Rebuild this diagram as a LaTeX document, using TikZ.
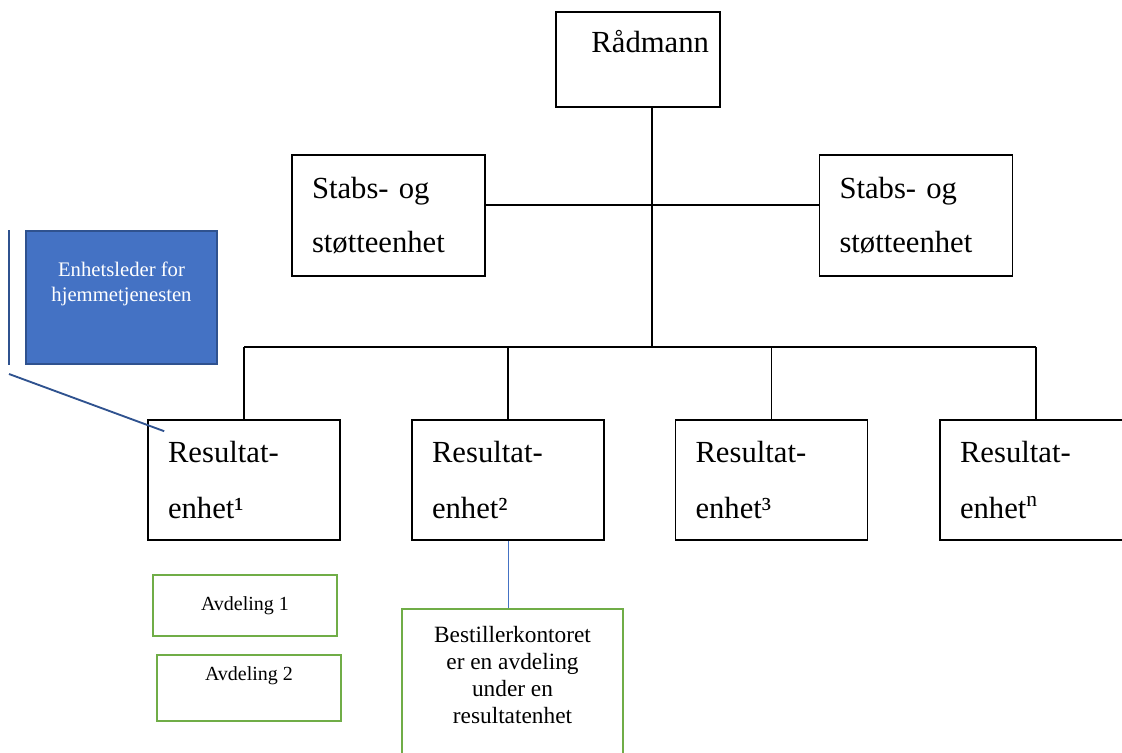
\documentclass[tikz,border=0pt]{standalone}
\usepackage{fontspec}
\setmainfont{Liberation Serif}
\usetikzlibrary{positioning}
\definecolor{lederblue}{HTML}{4472C4}
\definecolor{lederedge}{HTML}{2F528F}
\definecolor{avdgreen}{HTML}{70AD47}

\begin{document}
\begin{tikzpicture}[x=0.75pt,y=-0.75pt,
  orgbox/.style={draw,line width=1.2pt,align=left,inner xsep=15pt,inner ysep=0pt,
    font=\fontsize{23}{42}\selectfont},
  avdbox/.style={draw=avdgreen,line width=1.7pt,align=center,
    font=\fontsize{15}{16.5}\selectfont},
  link/.style={line width=1.1pt}]
\clip (0,0) rectangle (1122,753);

% top
\node[orgbox,minimum width=123pt,minimum height=71.25pt] (radmann) at (638,59.5) {};
\node[anchor=base west,inner sep=0pt,font=\fontsize{23}{28}\selectfont] (radtxt)
  at ([xshift=27pt,yshift=-30.75pt]radmann.north west) {Rådmann};

% staff units
\node[orgbox,text width=114.75pt,minimum height=90.75pt,font=\fontsize{23}{40}\selectfont]
  (stabsL) at (388.5,215.5) {Stabs- og\\støtteenhet};
\node[orgbox,text width=114.75pt,minimum height=90.75pt,font=\fontsize{23}{40}\selectfont]
  (stabsR) at (916,215.5) {Stabs- og\\støtteenhet};

% result units
\foreach \i/\x/\s in {1/244/¹,2/508/²,3/771.5/³,4/1036/\textsuperscript{n}}
  \node[orgbox,text width=114pt,minimum height=90pt] (res\i) at (\x,480) {Resultat-\\enhet\s};

\coordinate (mid) at (652,205);
\coordinate (bus) at (652,347);
\draw[link] (radmann.south -| bus) -- (bus);
\draw[link] (stabsL.east |- mid) -- (stabsR.west |- mid);
\draw[link] (res1.north |- bus) -- (res4.north |- bus);
\foreach \i in {1,...,4}
  \draw[link] (res\i.north |- bus) -- (res\i.north);

% unit leader
\node[fill=lederblue,draw=lederedge,line width=1.2pt,text=white,align=center,
  minimum width=143.25pt,minimum height=99.75pt,font=\fontsize{15.5}{18.75}\selectfont]
  (leder) at (121.5,297.5) {Enhetsleder for\\hjemmetjenesten\\\strut};
\coordinate (bar) at (9,374);
\draw[lederedge,line width=1.4pt] (bar |- leder.north) -- (bar |- leder.south);
\draw[lederedge,line width=1.4pt] (bar) -- ([xshift=12.75pt,yshift=-9pt]res1.north west);

% departments
\node[avdbox,minimum width=138pt,minimum height=45.75pt] (avd1) at (245,605.5) {Avdeling 1};
\node[avdbox,minimum width=138pt,minimum height=49.5pt] (avd2) at (249,688) {Avdeling 2\\\strut};
\node[avdbox,anchor=north,minimum width=165.75pt,inner ysep=11pt,text depth=80pt,
  font=\fontsize{17.5}{20.25}\selectfont] (bestiller) at (512.5,608)
  {\strut Bestillerkontoret\\er en avdeling\\under en\\resultatenhet};
\draw[lederblue,line width=0.6pt] (res2.south) -- (res2.south |- bestiller.north);
\end{tikzpicture}
\end{document}
